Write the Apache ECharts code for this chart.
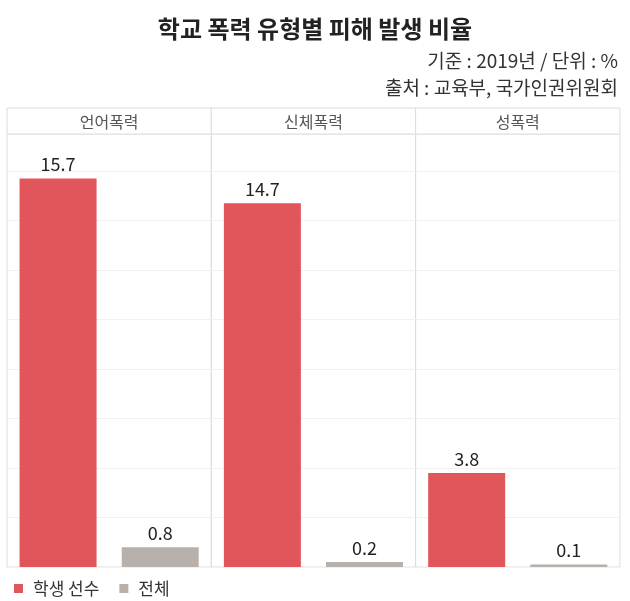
<!DOCTYPE html>
<html><head><meta charset="utf-8">
<script src="https://cdn.jsdelivr.net/npm/echarts@6/dist/echarts.min.js"></script>
<style>html,body{margin:0;padding:0;background:#fff}#c{width:630px;height:601px}</style>
</head><body><div id="c"></div>
<script>
const categories = ['언어폭력', '신체폭력', '성폭력'];
const seriesNames = ['학생 선수', '전체'];
const athletes = [15.7, 14.7, 3.8];
const overall = [0.8, 0.2, 0.1];

const FONT = '"Noto Sans CJK KR", "Noto Sans", sans-serif';
const colors = ['#e0565a', '#b8b0ab'];
const panelLeft = 7, panelW = 204.3, plotTop = 134, plotBottom = 567, headTop = 108;

const grids = [], xAxes = [], yAxes = [], series = [], graphics = [];
categories.forEach((cat, i) => {
  const left = panelLeft + i * panelW;
  grids.push({left: left, width: panelW, top: plotTop, height: plotBottom - plotTop,
    show: true, borderColor: '#dcdcdc', borderWidth: 1, containLabel: false});
  xAxes.push({type: 'category', gridIndex: i, data: seriesNames,
    axisLine: {show: false}, axisTick: {show: false}, axisLabel: {show: false}});
  yAxes.push({type: 'value', gridIndex: i, min: 0, max: 17.5, interval: 2,
    axisLine: {show: false}, axisTick: {show: false}, axisLabel: {show: false},
    splitLine: {lineStyle: {color: '#f1f1f1', width: 1}}});
  const vals = [athletes[i], overall[i]];
  seriesNames.forEach((name, j) => {
    const d = seriesNames.map((_, k) => k === j ? vals[j] : '-');
    series.push({name: name, type: 'bar', xAxisIndex: i, yAxisIndex: i, data: d,
      barWidth: 77, barGap: '-100%', itemStyle: {color: colors[j]},
      label: {show: true, position: 'top', distance: 5, color: '#222', fontSize: 18,
        fontFamily: FONT}});
  });
  graphics.push({type: 'rect', shape: {x: left, y: headTop, width: panelW, height: plotTop - headTop},
    style: {fill: '#fff', stroke: '#dcdcdc', lineWidth: 1}, z: 10});
  graphics.push({type: 'text', x: left + panelW / 2, y: (headTop + plotTop) / 2 + 1,
    style: {text: cat, fill: '#555', fontSize: 16, fontFamily: FONT, align: 'center', verticalAlign: 'middle'}, z: 11});
});

const chart = echarts.init(document.getElementById('c'));
chart.setOption({
  backgroundColor: '#fff',
  animation: false,
  title: [
    {text: '학교 폭력 유형별 피해 발생 비율', left: 'center', top: 12,
      textStyle: {fontSize: 24, fontWeight: 'bold', color: '#222', fontFamily: FONT}},
    {text: '기준 : 2019년 / 단위 : %', right: 7, top: 46,
      textStyle: {fontSize: 19, fontWeight: 'normal', color: '#333', fontFamily: FONT}},
    {text: '출처 : 교육부, 국가인권위원회', right: 7, top: 73,
      textStyle: {fontSize: 19, fontWeight: 'normal', color: '#333', fontFamily: FONT}}
  ],
  legend: {data: seriesNames, left: 9, top: 575, icon: 'rect', itemWidth: 9, itemHeight: 9,
    itemGap: 20, textStyle: {fontSize: 17, color: '#333', fontFamily: FONT, padding: [0, 0, 0, 5]}},
  grid: grids, xAxis: xAxes, yAxis: yAxes, series: series, graphic: graphics
});
</script></body></html>
